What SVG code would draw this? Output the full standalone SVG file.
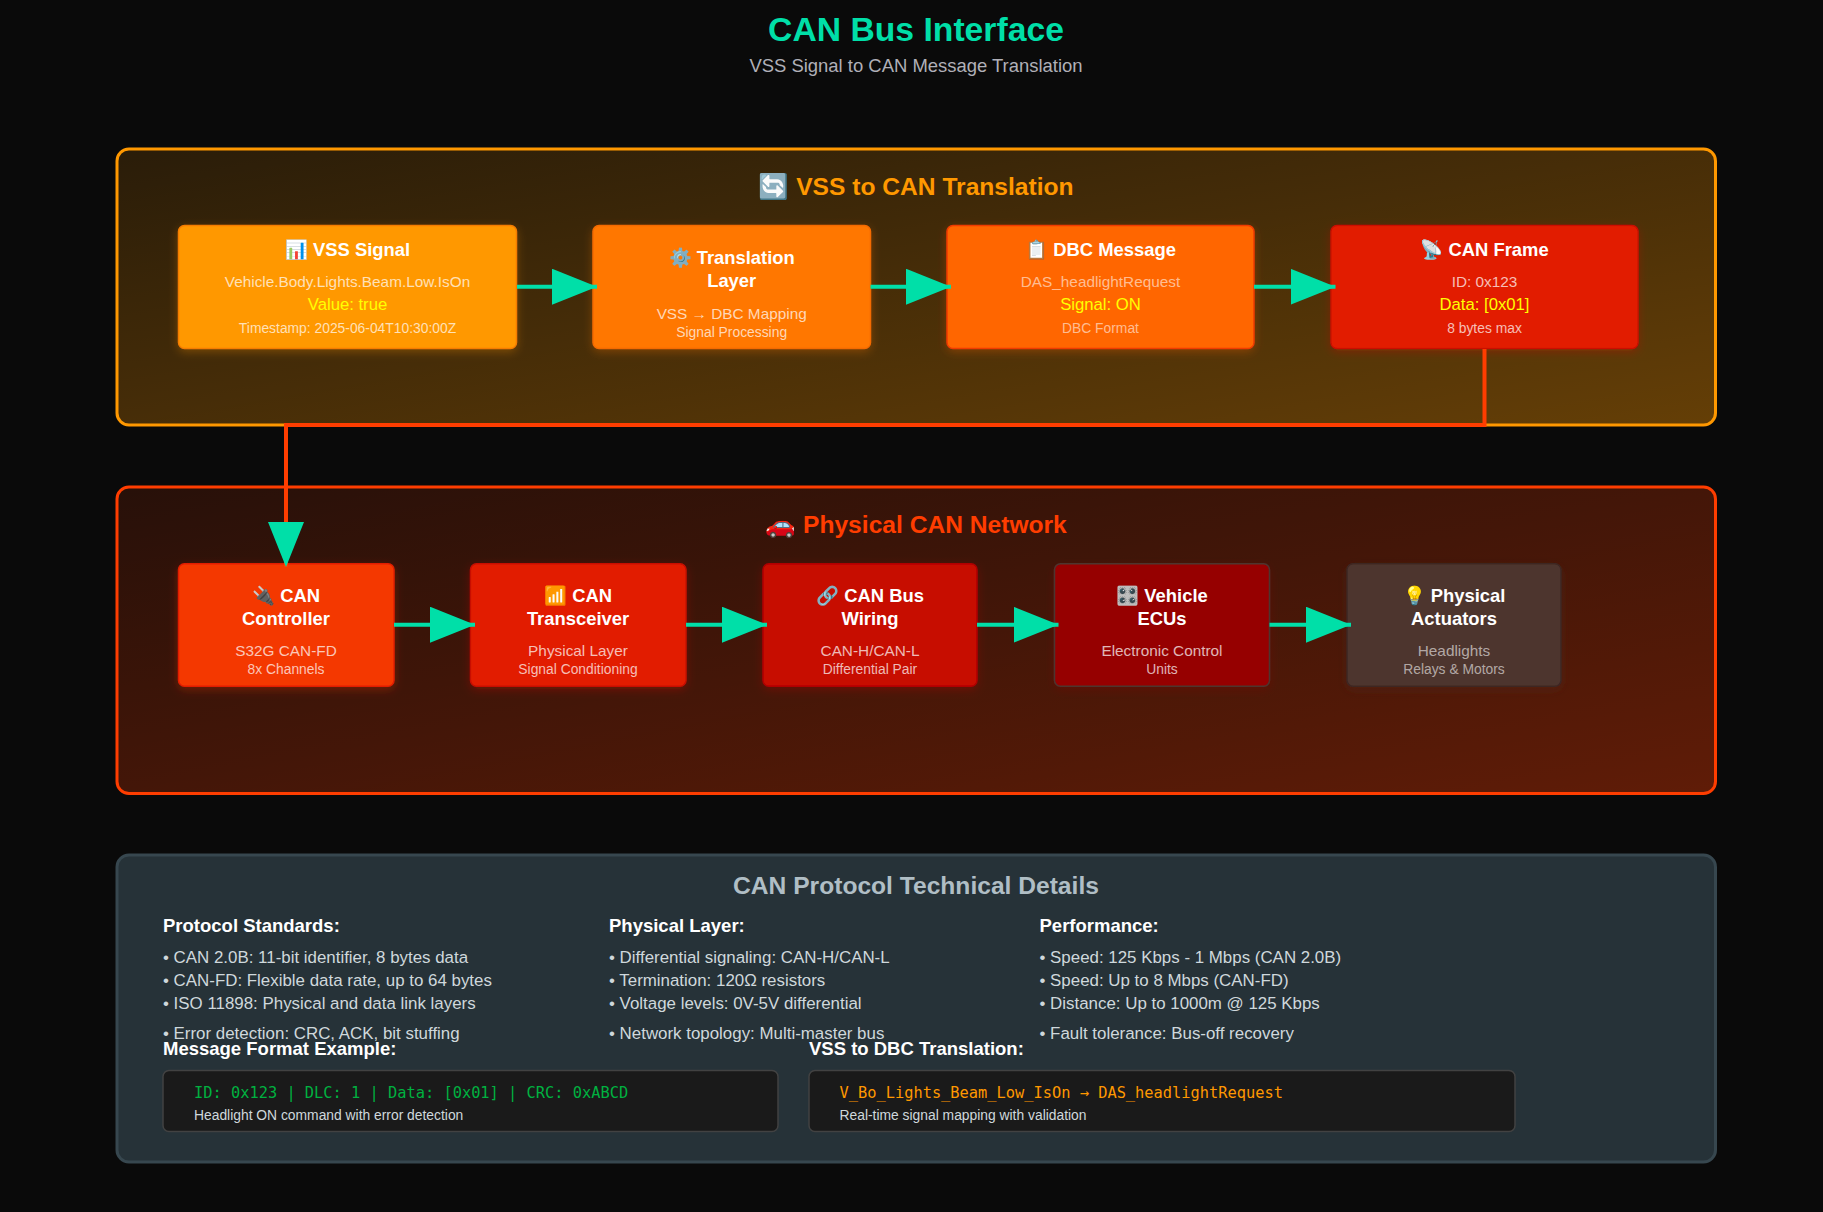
<svg xmlns="http://www.w3.org/2000/svg" width="1823" height="1212" viewBox="0 0 1823 1212">
<style>
text{font-family:"Liberation Sans",Arial,sans-serif}
.m{text-anchor:middle}
.h{font-size:18.4px;font-weight:700;fill:#fff}
.s1{font-size:15.35px;fill:#fff;fill-opacity:.72}
.s2{font-size:13.85px;fill:#fff;fill-opacity:.72}
.dim{fill-opacity:.58}
.y{font-size:16.7px;fill:#ff0}
.pt{font-size:24.6px;font-weight:700}
.ch{font-size:18.5px;font-weight:700;fill:#fff}
.li{font-size:16.9px;fill:#cfd8dc}
.mono{font-family:"DejaVu Sans Mono",monospace;font-size:15.35px}
.cap{font-size:13.85px;fill:#cfd8dc}
.n{stroke-width:1.5;filter:url(#sh)}
.cn{fill:none;stroke-width:4;marker-end:url(#ah)}
</style>
<defs>
<linearGradient id="g1" x1="0" y1="0" x2="1" y2="1"><stop offset="0" stop-color="#ff9800" stop-opacity=".13"/><stop offset="1" stop-color="#ff9800" stop-opacity=".37"/></linearGradient>
<linearGradient id="g2" x1="0" y1="0" x2="1" y2="1"><stop offset="0" stop-color="#ff3d00" stop-opacity=".12"/><stop offset="1" stop-color="#ff3d00" stop-opacity=".35"/></linearGradient>
<filter id="sh" x="-15%" y="-25%" width="130%" height="160%"><feGaussianBlur in="SourceGraphic" stdDeviation="5" result="b"/><feOffset in="b" dy="3" result="o"/><feComponentTransfer in="o" result="t"><feFuncA type="linear" slope=".3"/></feComponentTransfer><feMerge><feMergeNode in="t"/><feMergeNode in="SourceGraphic"/></feMerge></filter>
<marker id="ah" markerUnits="userSpaceOnUse" markerWidth="45" markerHeight="36" viewBox="0 0 45 36" refX="45" refY="18" orient="auto"><polygon points="0 0 45 18 0 36" fill="#00dfa8"/></marker>
</defs>
<rect width="1823" height="1212" fill="#0a0a0a"/>
<g id="header">
<text class="m" x="916" y="41" font-size="33.7" font-weight="700" fill="#00dfa8">CAN Bus Interface</text>
<text class="m" x="916" y="72" font-size="18.45" fill="#b0b0b8">VSS Signal to CAN Message Translation</text>
</g>
<g id="panel-translation">
<rect x="117" y="149" width="1598.5" height="276" rx="12" fill="url(#g1)" stroke="#ff9800" stroke-width="3"/>
<text class="m pt" x="916" y="195" fill="#ff9800">🔄 VSS to CAN Translation</text>
</g>
<g id="panel-network">
<rect x="117" y="487" width="1598.5" height="306.5" rx="12" fill="url(#g2)" stroke="#ff3d00" stroke-width="3"/>
<text class="m pt" x="916" y="533" fill="#ff3d00">🚗 Physical CAN Network</text>
</g>
<g id="panel-details">
<rect x="117" y="855" width="1598.5" height="307" rx="12" fill="#263238" stroke="#37474f" stroke-width="3"/>
<text class="m pt" x="916" y="894" fill="#b0bec5">CAN Protocol Technical Details</text>
<text class="ch" x="163" y="932">Protocol Standards:</text>
<text class="li" x="163" y="962.5">• CAN 2.0B: 11-bit identifier, 8 bytes data</text>
<text class="li" x="163" y="985.7">• CAN-FD: Flexible data rate, up to 64 bytes</text>
<text class="li" x="163" y="1008.7">• ISO 11898: Physical and data link layers</text>
<text class="li" x="163" y="1039.3">• Error detection: CRC, ACK, bit stuffing</text>
<text class="ch" x="609" y="932">Physical Layer:</text>
<text class="li" x="609" y="962.5">• Differential signaling: CAN-H/CAN-L</text>
<text class="li" x="609" y="985.7">• Termination: 120Ω resistors</text>
<text class="li" x="609" y="1008.7">• Voltage levels: 0V-5V differential</text>
<text class="li" x="609" y="1039.3">• Network topology: Multi-master bus</text>
<text class="ch" x="1039.5" y="932">Performance:</text>
<text class="li" x="1039.5" y="962.5">• Speed: 125 Kbps - 1 Mbps (CAN 2.0B)</text>
<text class="li" x="1039.5" y="985.7">• Speed: Up to 8 Mbps (CAN-FD)</text>
<text class="li" x="1039.5" y="1008.7">• Distance: Up to 1000m @ 125 Kbps</text>
<text class="li" x="1039.5" y="1039.3">• Fault tolerance: Bus-off recovery</text>
<text class="ch" x="163" y="1055">Message Format Example:</text>
<rect x="163" y="1070.5" width="615" height="61" rx="6" fill="#1a1a1a" stroke="#424242" stroke-width="1.5"/>
<text class="mono" x="194" y="1097.5" fill="#00b140">ID: 0x123 | DLC: 1 | Data: [0x01] | CRC: 0xABCD</text>
<text class="cap" x="194" y="1119.5">Headlight ON command with error detection</text>
<text class="ch" x="809" y="1055">VSS to DBC Translation:</text>
<rect x="809" y="1070.5" width="706" height="61" rx="6" fill="#1a1a1a" stroke="#424242" stroke-width="1.5"/>
<text class="mono" x="839.5" y="1097.5" fill="#ff9800">V_Bo_Lights_Beam_Low_IsOn → DAS_headlightRequest</text>
<text class="cap" x="839.5" y="1119.5">Real-time signal mapping with validation</text>
</g>
<g id="node-vss-signal"><rect class="n" x="178.5" y="225.4" width="338" height="123.2" rx="6" fill="#ff9800" stroke="#f57c00"/>
<text class="m h" x="347.5" y="256">📊 VSS Signal</text><text class="m s1" x="347.5" y="287">Vehicle.Body.Lights.Beam.Low.IsOn</text><text class="m y" x="347.5" y="310">Value: true</text><text class="m s2" x="347.5" y="333">Timestamp: 2025-06-04T10:30:00Z</text></g>
<g id="node-translation"><rect class="n" x="593" y="225.4" width="277.5" height="123.2" rx="6" fill="#ff7700" stroke="#f46a00"/>
<text class="m h" x="731.7" y="264">⚙️ Translation</text><text class="m h" x="731.7" y="287">Layer</text><text class="m s1" x="731.7" y="318.5">VSS → DBC Mapping</text><text class="m s2" x="731.7" y="336.5">Signal Processing</text></g>
<g id="node-dbc"><rect class="n" x="947" y="225.4" width="307" height="123.2" rx="6" fill="#ff6600" stroke="#f03a00"/>
<text class="m h" x="1100.5" y="256">📋 DBC Message</text><text class="m s1 dim" x="1100.5" y="287">DAS_headlightRequest</text><text class="m y" x="1100.5" y="310">Signal: ON</text><text class="m s2 dim" x="1100.5" y="333">DBC Format</text></g>
<g id="node-frame"><rect class="n" x="1331" y="225.4" width="307" height="123.2" rx="6" fill="#e21f00" stroke="#cc1000"/>
<text class="m h" x="1484.5" y="256">📡 CAN Frame</text><text class="m s1" x="1484.5" y="287">ID: 0x123</text><text class="m y" x="1484.5" y="310">Data: [0x01]</text><text class="m s2" x="1484.5" y="333">8 bytes max</text></g>
<g id="node-controller"><rect class="n" x="178.5" y="563.7" width="215.5" height="122.6" rx="6" fill="#f43900" stroke="#e21f00"/>
<text class="m h" x="286" y="602">🔌 CAN</text><text class="m h" x="286" y="625">Controller</text><text class="m s1" x="286" y="655.5">S32G CAN-FD</text><text class="m s2" x="286" y="673.5">8x Channels</text></g>
<g id="node-transceiver"><rect class="n" x="470.5" y="563.7" width="215.5" height="122.6" rx="6" fill="#e21f00" stroke="#c80f00"/>
<text class="m h" x="578" y="602">📶 CAN</text><text class="m h" x="578" y="625">Transceiver</text><text class="m s1" x="578" y="655.5">Physical Layer</text><text class="m s2" x="578" y="673.5">Signal Conditioning</text></g>
<g id="node-wiring"><rect class="n" x="763" y="563.7" width="214" height="122.6" rx="6" fill="#c70d00" stroke="#b00000"/>
<text class="m h" x="870" y="602">🔗 CAN Bus</text><text class="m h" x="870" y="625">Wiring</text><text class="m s1" x="870" y="655.5">CAN-H/CAN-L</text><text class="m s2" x="870" y="673.5">Differential Pair</text></g>
<g id="node-ecus"><rect class="n" x="1054.5" y="563.7" width="215" height="122.6" rx="6" fill="#960000" stroke="#4e342e"/>
<text class="m h" x="1162" y="602">🎛️ Vehicle</text><text class="m h" x="1162" y="625">ECUs</text><text class="m s1" x="1162" y="655.5">Electronic Control</text><text class="m s2" x="1162" y="673.5">Units</text></g>
<g id="node-actuators"><rect class="n" x="1347" y="563.7" width="214" height="122.6" rx="6" fill="#4e342e" stroke="#3e2723"/>
<text class="m h" x="1454" y="602">💡 Physical</text><text class="m h" x="1454" y="625">Actuators</text><text class="m s1 dim" x="1454" y="655.5">Headlights</text><text class="m s2 dim" x="1454" y="673.5">Relays &amp; Motors</text></g>
<g id="connectors">
<path class="cn" stroke="#00dfa8" d="M517 286.7H597"/>
<path class="cn" stroke="#00dfa8" d="M870.5 286.7H951"/>
<path class="cn" stroke="#00dfa8" d="M1254 286.7H1335.5"/>
<path class="cn" stroke="#ff3d00" d="M1484.5 349V425H286V567"/>
<path class="cn" stroke="#00dfa8" d="M394 624.7H475"/>
<path class="cn" stroke="#00dfa8" d="M686 624.7H767"/>
<path class="cn" stroke="#00dfa8" d="M977 624.7H1058.5"/>
<path class="cn" stroke="#00dfa8" d="M1269.5 624.7H1351"/>
</g>
</svg>
